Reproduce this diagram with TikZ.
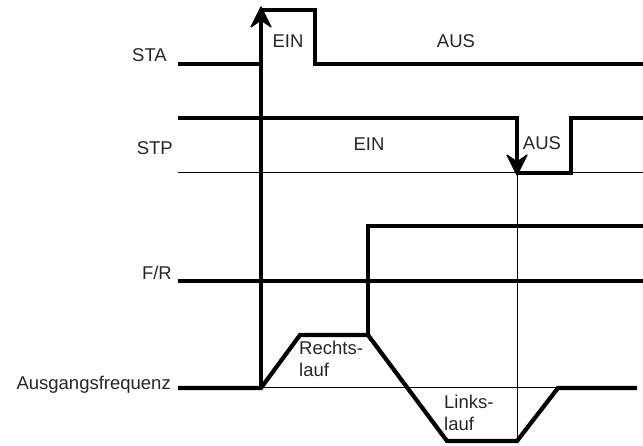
\documentclass[tikz,border=0pt]{standalone}
\usepackage{fontspec}
\setmainfont{Liberation Sans}
\begin{document}
\begin{tikzpicture}[x=1pt,y=-1pt,
  sig/.style={line width=4.2pt, line join=miter},
  thinline/.style={line width=1pt},
  head/.style={fill=black, draw=black, line width=1.2pt, line join=round},
  lbl/.style={font=\fontsize{18.5}{22}\selectfont, inner sep=0pt, text=black!85},
  note/.style={lbl, align=left, anchor=north west}]
\useasboundingbox (0,0) rectangle (643,446);
% signal names
\node[lbl, anchor=east] (sta) at (167,55) {STA};
\node[lbl, anchor=east] (stp) at (173,148) {STP};
\node[lbl, anchor=east] (fr) at (172,273) {F/R};
\node[lbl, anchor=east] (af) at (171,385) {Ausgangsfrequenz};
% state labels
\node[lbl] (ein1) at (288,41) {EIN};
\node[lbl] (aus1) at (456,41) {AUS};
\node[lbl] (ein2) at (369,144) {EIN};
\node[lbl] (aus2) at (542,143) {AUS};
\node[note] (rl) at (299,341) {Rechts-\\lauf};
\node[note] (ll) at (444,395) {Links-\\lauf};
% STA
\draw[sig] (178,64) -- (261,64);
\draw[sig] (261,10) -- (315,10) -- (315,64) -- (643,64);
\draw[sig] (261,388) -- (261,12);
\path[head] (261,7) -- (271,27) -- (261,20) -- (251,27) -- cycle;
% STP
\draw[thinline] (178,173) -- (643,173);
\draw[thinline] (517,173) -- (517,441);
\draw[sig] (517,173) -- (571,173) -- (571,118) -- (643,118);
\draw[sig] (178,118) -- (517,118) -- (517,168);
\path[head] (517,175) -- (527,155) -- (517,162) -- (507,155) -- cycle;
% F/R
\draw[sig] (178,281) -- (643,281);
\draw[sig] (368,335) -- (368,226) -- (643,226);
% Ausgangsfrequenz
\draw[thinline] (261,388) -- (558,388);
\draw[sig] (178,388) -- (261,388) -- (300,335) -- (368,335) -- (447,441) -- (517,441) -- (558,388) -- (637,388);
\end{tikzpicture}
\end{document}
